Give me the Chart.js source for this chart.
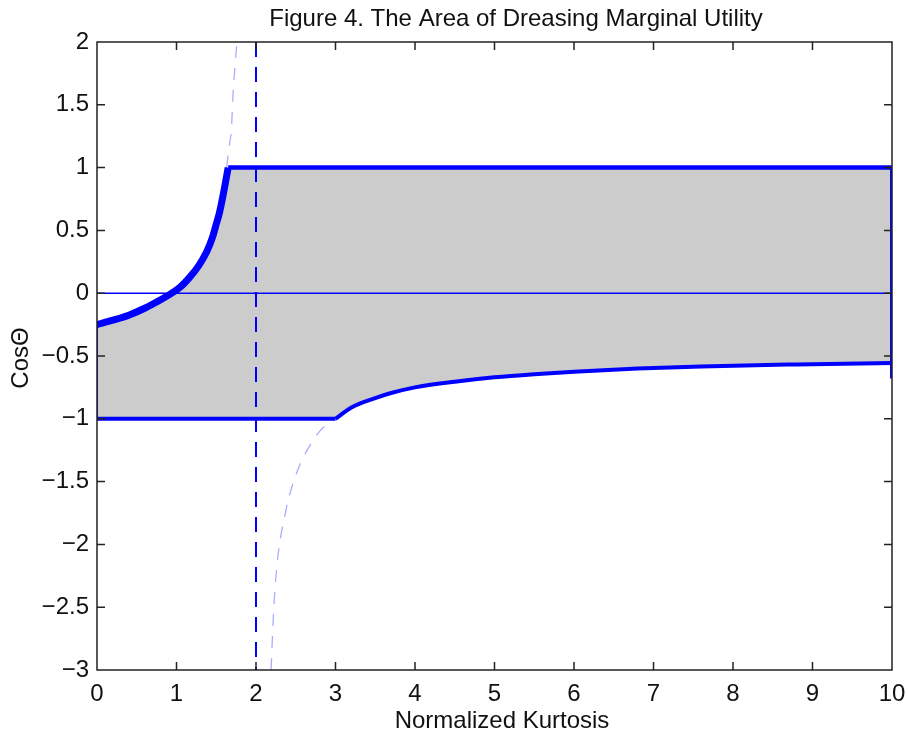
<!DOCTYPE html>
<html lang="en">
<head>
    <meta charset="UTF-8">
    <title>Figure 4. The Area of Dreasing Marginal Utility</title>
    <script src="https://cdn.jsdelivr.net/npm/chart.js@4.4.1/dist/chart.umd.min.js"></script>
    <style>
        body { margin: 0; background: #fff; }
    </style>
</head>
<body>
    <canvas id="myChart" width="908" height="733"></canvas>
</body>
<script>
    // values
    var upperX = [0, 0.2, 0.4, 0.6, 0.75, 0.85, 0.94, 1.05, 1.17, 1.28, 1.38, 1.45, 1.5, 1.54, 1.58, 1.61, 1.65];
    var upperY = [-0.25, -0.215, -0.175, -0.12, -0.07, -0.035, 0, 0.05, 0.13, 0.22, 0.33, 0.44, 0.55, 0.64, 0.76, 0.86, 1];
    var flatX = [1.65, 10];
    var flatY = [1, 1];
    var floorX = [0, 3];
    var floorY = [-1, -1];
    var lowerX = [3, 3.2, 3.5, 3.7, 4, 4.5, 5, 5.5, 6, 6.8, 7.6, 8.8, 10];
    var lowerY = [-1, -0.91, -0.835, -0.795, -0.75, -0.705, -0.67, -0.645, -0.625, -0.6, -0.583, -0.567, -0.555];
    var rightEdgeY = [1, -0.68];
    var leftEdgeY = [-0.25, -1];
    var ghostUpX = [1.63, 1.67, 1.69, 1.71, 1.76];
    var ghostUpY = [1, 1.2, 1.3, 1.57, 2];
    var ghostLowX = [2.19, 2.22, 2.25, 2.29, 2.36, 2.4, 2.5, 2.6, 2.7, 2.8, 2.9, 3];
    var ghostLowY = [-3, -2.55, -2.26, -2.02, -1.78, -1.66, -1.45, -1.3, -1.19, -1.1, -1.04, -1];
    var asymptoteX = 2;

    function pts(xs, ys) {
        return xs.map(function (x, i) { return { x: x, y: ys[i] }; });
    }

    var blue = '#0000ff';
    var font = "'Liberation Sans', Arial, sans-serif";

    var area = pts(upperX, upperY)
        .concat(pts(flatX, flatY))
        .concat(pts(lowerX, lowerY).reverse())
        .concat(pts(floorX, floorY).reverse());

    function line(data, width, extra) {
        var d = {
            data: data,
            borderColor: blue,
            borderWidth: width,
            pointRadius: 0,
            fill: false,
            tension: 0
        };
        for (var k in extra) d[k] = extra[k];
        return d;
    }
    var smooth = { cubicInterpolationMode: 'monotone' };

    var frame = {
        id: 'frame',
        afterDraw: function (chart) {
            var c = chart.ctx, a = chart.chartArea;
            var xs = chart.scales.x, ys = chart.scales.y;
            c.save();
            c.strokeStyle = '#222';
            c.lineWidth = 1.5;
            c.strokeRect(a.left, a.top, a.right - a.left, a.bottom - a.top);
            c.beginPath();
            for (var v = 1; v < 10; v++) {
                var px = xs.getPixelForValue(v);
                c.moveTo(px, a.bottom); c.lineTo(px, a.bottom - 8);
                c.moveTo(px, a.top); c.lineTo(px, a.top + 8);
            }
            for (var w = -2.5; w < 2; w += 0.5) {
                var py = ys.getPixelForValue(w);
                c.moveTo(a.left, py); c.lineTo(a.left + 8, py);
                c.moveTo(a.right, py); c.lineTo(a.right - 8, py);
            }
            c.stroke();

            c.fillStyle = '#111';
            c.font = '24px ' + font;
            c.textAlign = 'center';
            c.textBaseline = 'alphabetic';
            c.fillText('Figure 4. The Area of Dreasing Marginal Utility', 516, 26);
            c.fillText('Normalized Kurtosis', 502, 728);
            c.translate(28, 358);
            c.rotate(-Math.PI / 2);
            c.fillText('Cos\u0398', 0, 0);
            c.restore();
        }
    };

    var ctx = document.getElementById('myChart').getContext('2d');
    var chart = new Chart(ctx, {
        type: 'line',
        data: {
            datasets: [
                line(pts(upperX, upperY), 7, smooth),
                line(pts(flatX, flatY), 4.5),
                line(pts([10, 10], rightEdgeY), 4),
                line(pts(floorX, floorY), 4),
                line(pts(lowerX, lowerY), 4, smooth),
                line(pts([0, 0], leftEdgeY), 2),
                line(pts([asymptoteX, asymptoteX], [2, -3]), 2, { borderDash: [15, 10] }),
                line(pts([0, 10], [0, 0]), 1.6),
                line(pts(ghostUpX, ghostUpY), 1.3, { borderColor: '#a9adff', borderDash: [12, 10], cubicInterpolationMode: 'monotone' }),
                line(pts(ghostLowX, ghostLowY), 1.3, { borderColor: '#a9adff', borderDash: [12, 10], cubicInterpolationMode: 'monotone' }),
                {
                    data: area,
                    borderWidth: 0,
                    pointRadius: 0,
                    backgroundColor: '#cccccc',
                    fill: 'shape',
                    tension: 0
                }
            ]
        },
        options: {
            responsive: false,
            animation: false,
            layout: { padding: { top: 42, right: 16, left: 0, bottom: 0 } },
            plugins: { legend: { display: false }, tooltip: { enabled: false } },
            scales: {
                x: {
                    type: 'linear',
                    min: 0,
                    max: 10,
                    grid: { display: false, drawTicks: false },
                    border: { display: false },
                    ticks: { stepSize: 1, padding: 10, color: '#111', font: { family: font, size: 24 } },
                    afterFit: function (s) { s.height = 63; s.paddingLeft = 0; s.paddingRight = 0; }
                },
                y: {
                    min: -3,
                    max: 2,
                    grid: { display: false, drawTicks: false },
                    border: { display: false },
                    ticks: {
                        stepSize: 0.5,
                        padding: 8,
                        color: '#111',
                        font: { family: font, size: 24 },
                        callback: function (v) { return String(v).replace('-', '\u2212'); }
                    },
                    afterFit: function (s) { s.width = 97; s.paddingTop = 0; s.paddingBottom = 0; }
                }
            }
        },
        plugins: [frame]
    });
</script>
</html>
